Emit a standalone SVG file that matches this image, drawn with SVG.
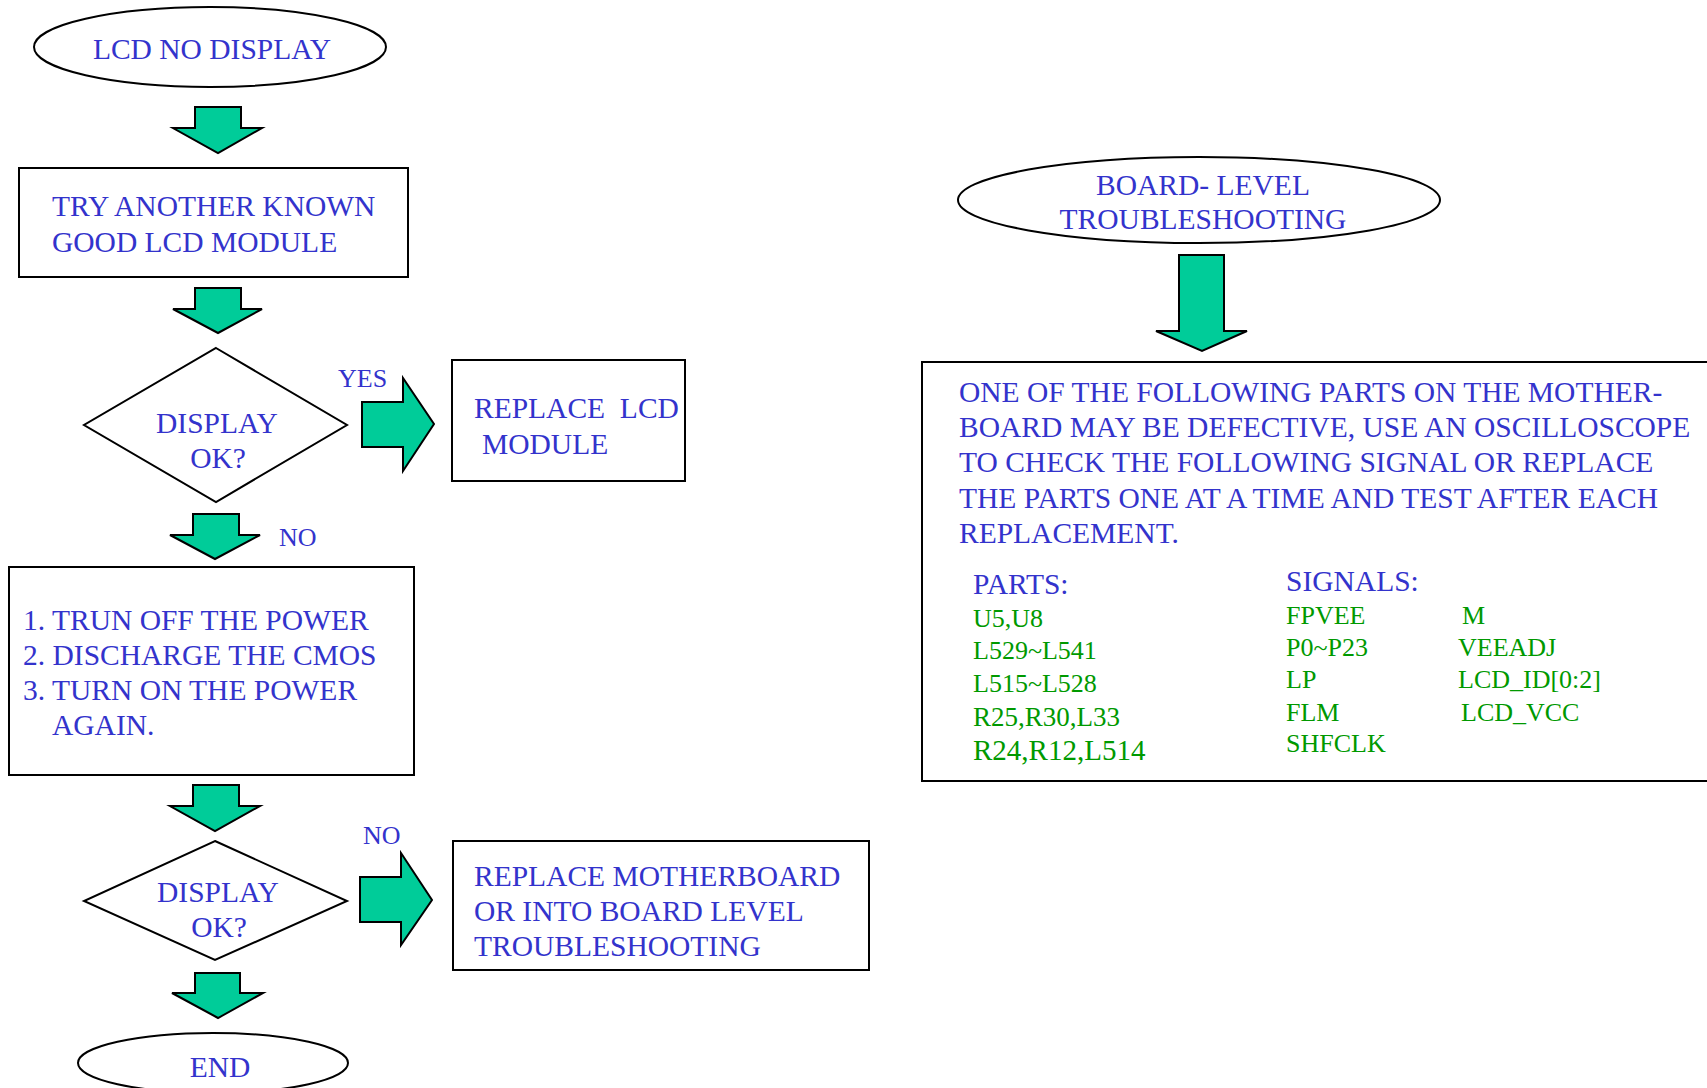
<svg xmlns="http://www.w3.org/2000/svg" width="1707" height="1088" viewBox="0 0 1707 1088">
<style>
.shape{fill:#ffffff;stroke:#000000;stroke-width:2}
.arrow{fill:#00CC99;stroke:#000000;stroke-width:2;stroke-linejoin:miter}
text{font-family:"Liberation Serif","Times New Roman",serif}
.b{fill:#3333CC;font-size:29.5px}
.lbl{fill:#3333CC;font-size:26px}
.g{fill:#009900;font-size:26px}
</style>
<rect width="1707" height="1088" fill="#ffffff"/>
<g id="connectors">
<polygon class="arrow" points="195,107 241,107 241,128 262,128 218,153 173,128 195,128"/>
<polygon class="arrow" points="195,288 241,288 241,309 262,309 218,333 173,309 195,309"/>
<polygon class="arrow" points="193,514 239,514 239,535 260,535 215,559 170,535 193,535"/>
<polygon class="arrow" points="193,785 239,785 239,806 260,806 215,831 170,806 193,806"/>
<polygon class="arrow" points="195,973 240,973 240,993 263,993 218,1018 172,993 195,993"/>
<polygon class="arrow" points="1179,255 1224,255 1224,331 1247,331 1202,351 1156,331 1179,331"/>
<polygon class="arrow" points="362,402 403,402 403,378 434,424 403,471 403,447 362,447"/>
<polygon class="arrow" points="360,877 401,877 401,853 432,900 401,945 401,922 360,922"/>
<text class="lbl" x="338" y="387">YES</text>
<text class="lbl" x="279" y="546">NO</text>
<text class="lbl" x="363" y="844">NO</text>
</g>
<g id="start">
<ellipse class="shape" cx="210" cy="47" rx="176" ry="40"/>
<text class="b" x="212" y="59" text-anchor="middle">LCD NO DISPLAY</text>
</g>
<g id="try-module">
<rect class="shape" x="19" y="168" width="389" height="109"/>
<text class="b" x="52" y="216">TRY ANOTHER KNOWN</text>
<text class="b" x="52" y="252">GOOD LCD MODULE</text>
</g>
<g id="decision1">
<polygon class="shape" points="216,348 347,425 216,502 84,425"/>
<text class="b" x="217" y="433" text-anchor="middle">DISPLAY</text>
<text class="b" x="218" y="468" text-anchor="middle">OK?</text>
</g>
<g id="replace-lcd">
<rect class="shape" x="452" y="360" width="233" height="121"/>
<text class="b" x="474" y="418" xml:space="preserve">REPLACE  LCD</text>
<text class="b" x="482" y="454">MODULE</text>
</g>
<g id="steps">
<rect class="shape" x="9" y="567" width="405" height="208"/>
<text class="b" x="23" y="630">1. TRUN OFF THE POWER</text>
<text class="b" x="23" y="665">2. DISCHARGE THE CMOS</text>
<text class="b" x="23" y="700">3. TURN ON THE POWER</text>
<text class="b" x="52" y="735">AGAIN.</text>
</g>
<g id="decision2">
<polygon class="shape" points="215,841 347,901 215,960 84,901"/>
<text class="b" x="218" y="902" text-anchor="middle">DISPLAY</text>
<text class="b" x="219" y="937" text-anchor="middle">OK?</text>
</g>
<g id="replace-mb">
<rect class="shape" x="453" y="841" width="416" height="129"/>
<text class="b" x="474" y="886">REPLACE MOTHERBOARD</text>
<text class="b" x="474" y="921">OR INTO BOARD LEVEL</text>
<text class="b" x="474" y="956">TROUBLESHOOTING</text>
</g>
<g id="end">
<ellipse class="shape" cx="213" cy="1063" rx="135" ry="30"/>
<text class="b" x="220" y="1077" text-anchor="middle">END</text>
</g>
<g id="board-level">
<ellipse class="shape" cx="1199" cy="200" rx="241" ry="43"/>
<text class="b" x="1203" y="195" text-anchor="middle">BOARD- LEVEL</text>
<text class="b" x="1203" y="229" text-anchor="middle">TROUBLESHOOTING</text>
</g>
<g id="parts-box">
<rect class="shape" x="922" y="362" width="800" height="419"/>
<text class="b" x="959" y="402">ONE OF THE FOLLOWING PARTS ON THE MOTHER-</text>
<text class="b" x="959" y="437">BOARD MAY BE DEFECTIVE, USE AN OSCILLOSCOPE</text>
<text class="b" x="959" y="472">TO CHECK THE FOLLOWING SIGNAL OR REPLACE</text>
<text class="b" x="959" y="508">THE PARTS ONE AT A TIME AND TEST AFTER EACH</text>
<text class="b" x="959" y="543">REPLACEMENT.</text>
<text class="b" x="973" y="594">PARTS:</text>
<text class="b" x="1286" y="591">SIGNALS:</text>
<text class="g" x="973" y="627">U5,U8</text>
<text class="g" x="973" y="659">L529~L541</text>
<text class="g" x="973" y="692">L515~L528</text>
<text class="g" x="973" y="726" style="font-size:27px">R25,R30,L33</text>
<text class="g" x="973" y="760" style="font-size:29px">R24,R12,L514</text>
<text class="g" x="1286" y="624">FPVEE</text>
<text class="g" x="1286" y="656">P0~P23</text>
<text class="g" x="1286" y="688">LP</text>
<text class="g" x="1286" y="721">FLM</text>
<text class="g" x="1286" y="752">SHFCLK</text>
<text class="g" x="1462" y="624">M</text>
<text class="g" x="1458" y="656">VEEADJ</text>
<text class="g" x="1458" y="688">LCD_ID[0:2]</text>
<text class="g" x="1461" y="721">LCD_VCC</text>
</g>
</svg>
